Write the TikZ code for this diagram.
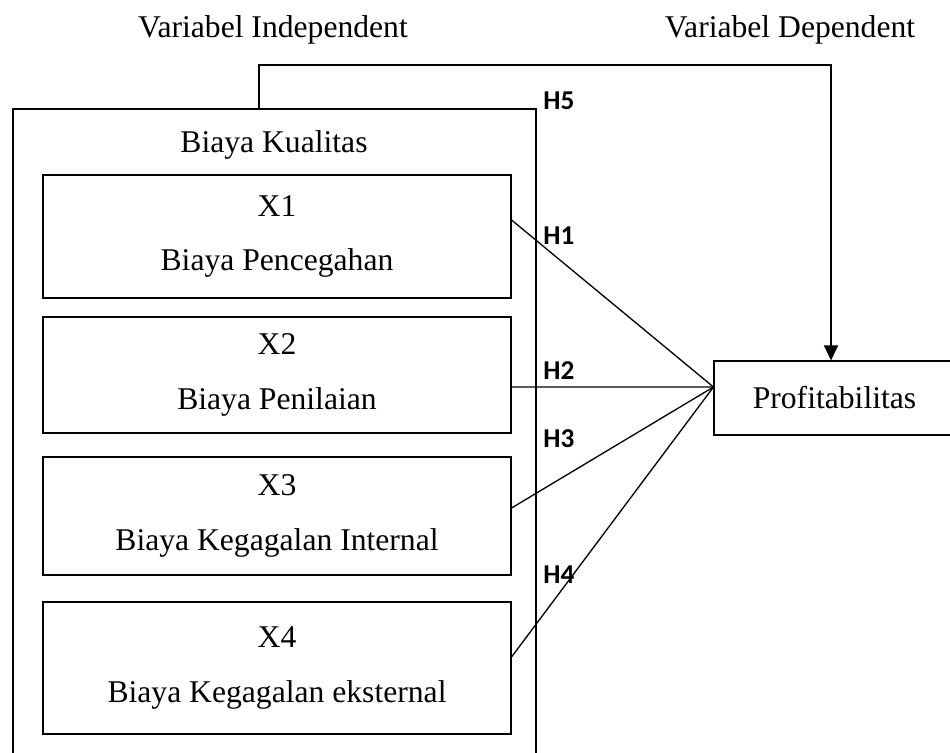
\documentclass[tikz,border=0pt]{standalone}
\usepackage{fontspec}
\setmainfont{Liberation Serif}
\newfontfamily\hfont{Carlito}
\usetikzlibrary{arrows.meta, positioning, calc}
\tikzset{
    txt/.style={font=\fontsize{18}{31}\selectfont, inner sep=0pt},
    outerbox/.style={
        rectangle, draw=black, line width=1.1pt, minimum width=10.46cm
    },
    xbox/.style={
        rectangle, draw=black, line width=0.6pt, minimum width=9.36cm,
        align=center, font=\fontsize{18}{31}\selectfont
    },
    ybox/.style={xbox, minimum width=4.82cm, minimum height=1.48cm},
    link/.style={line width=0.75pt},
    arrowline/.style={line width=0.75pt, -{Triangle[length=0.3cm, width=0.28cm]}},
    hlabel/.style={font=\hfont\bfseries\fontsize{15.5}{18}\selectfont, anchor=base west, inner sep=0pt},
}

\begin{document}
\begin{tikzpicture}
    \useasboundingbox (0, 0) rectangle (19, -15.04);

    \node[txt, anchor=base] (indep) at (5.46, -0.74) {Variabel Independent};
    \node[txt, anchor=base] (dep) at (15.80, -0.74) {Variabel Dependent};

    \node[outerbox, minimum height=12.94cm] (kualitasbox) at (5.49, -8.65) {};
    \node[txt, anchor=base] (kualitas) at (5.48, -3.04) {Biaya Kualitas};

    \node[xbox, minimum height=2.46cm] (x1) at (5.54, -4.73) {X1\\Biaya Pencegahan};
    \node[xbox, minimum height=2.32cm] (x2) at (5.54, -7.50) {X2\\Biaya Penilaian};
    \node[xbox, minimum height=2.36cm] (x3) at (5.54, -10.32) {X3\\Biaya Kegagalan Internal};
    \node[xbox, minimum height=2.64cm] (x4) at (5.54, -13.36) {X4\\Biaya Kegagalan eksternal};

    \node[ybox] (profit) at (16.69, -7.96) {Profitabilitas};

    \coordinate (meet) at ([yshift=0.22cm]profit.west);
    \draw[link] ([yshift=0.33cm]x1.east) -- (meet);
    \draw[link] ([yshift=-0.24cm]x2.east) -- (meet);
    \draw[link] ([yshift=0.16cm]x3.east) -- (meet);
    \draw[link] ([yshift=0.22cm]x4.east) -- (meet);

    \draw[arrowline] ([xshift=-0.31cm]kualitasbox.north) -- ++(0, 0.86) -| ([xshift=-0.07cm]profit.north);

    \node[hlabel] (h5) at (10.86, -2.18) {H5};
    \node[hlabel] (h1) at (10.86, -4.88) {H1};
    \node[hlabel] (h2) at (10.86, -7.58) {H2};
    \node[hlabel] (h3) at (10.86, -8.94) {H3};
    \node[hlabel] (h4) at (10.86, -11.66) {H4};
\end{tikzpicture}
\end{document}
